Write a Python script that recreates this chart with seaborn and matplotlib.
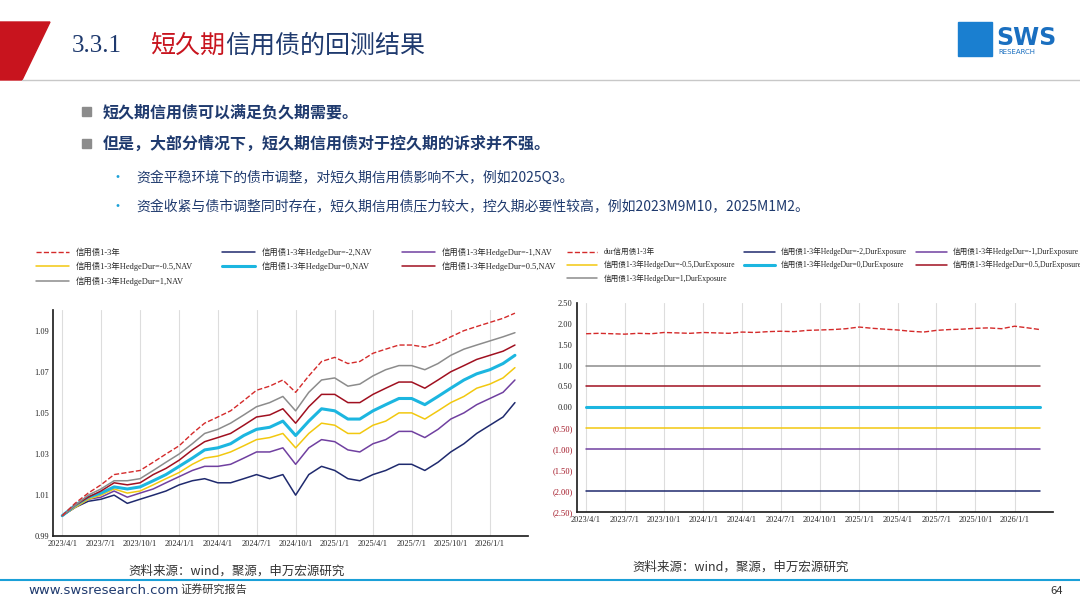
import matplotlib.pyplot as plt
import numpy as np
import pandas as pd
import seaborn as sns
from matplotlib.patches import Polygon, Rectangle
from matplotlib.lines import Line2D

sns.set_theme(style="white")
plt.rcParams['font.family'] = ['Noto Sans CJK SC', 'DejaVu Sans']
SERIF = ['Liberation Serif', 'Noto Sans CJK SC']

# ---- data (monthly points, 2023/4 .. 2026/3) ----
months = pd.date_range("2023-04-01", periods=36, freq="MS")

nav_base = [1.000, 1.006, 1.011, 1.015, 1.020, 1.021, 1.022, 1.026, 1.030,
            1.034, 1.040, 1.045, 1.048, 1.051, 1.056, 1.061, 1.063, 1.066, 1.060, 1.068, 1.075,
            1.077, 1.074, 1.075, 1.079, 1.081, 1.083, 1.083, 1.082, 1.084, 1.087, 1.090, 1.092,
            1.094, 1.096, 1.0985]
nav_m2 = [1.000, 1.004, 1.007, 1.008, 1.010, 1.006, 1.008, 1.010, 1.012, 1.015, 1.017, 1.018,
          1.016, 1.016, 1.018, 1.020, 1.018, 1.020, 1.010, 1.020, 1.024, 1.022, 1.018, 1.017,
          1.020, 1.022, 1.025, 1.025, 1.022, 1.026, 1.031, 1.035, 1.040, 1.044, 1.048, 1.055]
nav_m1 = [1.000, 1.004, 1.008, 1.009, 1.012, 1.009, 1.011, 1.013, 1.016, 1.019, 1.022, 1.024,
          1.024, 1.025, 1.028, 1.031, 1.031, 1.033, 1.025, 1.033, 1.037, 1.036, 1.032, 1.031,
          1.035, 1.037, 1.041, 1.041, 1.038, 1.042, 1.047, 1.050, 1.054, 1.057, 1.060, 1.066]
nav_m05 = [1.000, 1.004, 1.008, 1.010, 1.013, 1.011, 1.012, 1.015, 1.018, 1.021, 1.025, 1.028,
           1.029, 1.031, 1.034, 1.037, 1.038, 1.040, 1.033, 1.040, 1.045, 1.044, 1.040, 1.040,
           1.044, 1.046, 1.050, 1.050, 1.047, 1.051, 1.055, 1.058, 1.062, 1.064, 1.067, 1.072]
nav_0 = [1.000, 1.005, 1.009, 1.011, 1.014, 1.013, 1.014, 1.017, 1.020, 1.024, 1.028, 1.032,
         1.033, 1.035, 1.039, 1.042, 1.043, 1.046, 1.039, 1.046, 1.052, 1.051, 1.047, 1.047,
         1.051, 1.054, 1.057, 1.057, 1.054, 1.058, 1.062, 1.066, 1.069, 1.071, 1.074, 1.078]
nav_p05 = [1.000, 1.005, 1.009, 1.012, 1.016, 1.015, 1.016, 1.020, 1.023, 1.027, 1.032, 1.036,
           1.038, 1.040, 1.044, 1.048, 1.049, 1.052, 1.045, 1.053, 1.059, 1.059, 1.055, 1.055,
           1.059, 1.062, 1.065, 1.065, 1.062, 1.066, 1.070, 1.073, 1.076, 1.078, 1.080, 1.083]
nav_p1 = [1.000, 1.005, 1.010, 1.013, 1.017, 1.017, 1.018, 1.022, 1.026, 1.030, 1.035, 1.040,
          1.042, 1.045, 1.049, 1.053, 1.055, 1.058, 1.051, 1.060, 1.066, 1.067, 1.063, 1.064,
          1.068, 1.071, 1.073, 1.073, 1.071, 1.074, 1.078, 1.081, 1.083, 1.085, 1.087, 1.089]

dur_base = [1.76, 1.77, 1.76, 1.75, 1.77, 1.76, 1.79, 1.78, 1.77, 1.79, 1.78, 1.77,
            1.80, 1.79, 1.81, 1.82, 1.81, 1.84, 1.85, 1.86, 1.88, 1.92, 1.89, 1.87,
            1.85, 1.82, 1.80, 1.84, 1.86, 1.87, 1.89, 1.90, 1.88, 1.94, 1.90, 1.86]
hedge_levels = [-2, -1, -0.5, 0, 0.5, 1]

nav_labels = ["信用债1-3年", "信用债1-3年HedgeDur=-2,NAV", "信用债1-3年HedgeDur=-1,NAV",
              "信用债1-3年HedgeDur=-0.5,NAV", "信用债1-3年HedgeDur=0,NAV",
              "信用债1-3年HedgeDur=0.5,NAV", "信用债1-3年HedgeDur=1,NAV"]
dur_labels = ["dur信用债1-3年", "信用债1-3年HedgeDur=-2,DurExposure",
              "信用债1-3年HedgeDur=-1,DurExposure", "信用债1-3年HedgeDur=-0.5,DurExposure",
              "信用债1-3年HedgeDur=0,DurExposure", "信用债1-3年HedgeDur=0.5,DurExposure",
              "信用债1-3年HedgeDur=1,DurExposure"]
colors = ["#d42a2a", "#1f2a6e", "#7040a0", "#f2c80f", "#1cb6e0", "#a01020", "#8c8c8c"]
widths = [1.0, 1.1, 1.1, 1.1, 2.2, 1.1, 1.1]
xticks = pd.date_range("2023-04-01", "2026-01-01", freq="3MS")

fig = plt.figure(figsize=(10.8, 6.08), dpi=100)

# ---- slide decoration ----
deco = fig.add_axes([0, 0, 1, 1]); deco.set_axis_off(); deco.set_xlim(0, 1080); deco.set_ylim(608, 0)
deco.add_patch(Polygon([[0, 22], [50, 22], [22, 80], [0, 80]], color="#c8141e"))
deco.plot([22, 1080], [80, 80], color="#c8c8c8", lw=1)
deco.text(72, 46, "3.3.1", fontsize=18, color="#1f3a6e", va="center", family=SERIF)
deco.text(150, 46, "短久期", fontsize=18, color="#c8141e", va="center")
deco.text(225, 46, "信用债的回测结果", fontsize=18, color="#1f3a6e", va="center")
deco.add_patch(Rectangle((958, 22), 34, 34, color="#1a7fd0"))
deco.text(996, 38, "SWS", fontsize=17, color="#1a6fc0", fontweight="bold", va="center", family="DejaVu Sans")
deco.text(998, 52, "RESEARCH", fontsize=5, color="#1a6fc0", va="center", family="DejaVu Sans")
for y, t in [(112, "短久期信用债可以满足负久期需要。"), (144, "但是，大部分情况下，短久期信用债对于控久期的诉求并不强。")]:
    deco.add_patch(Rectangle((82, y - 5), 9, 9, color="#8c8c8c"))
    deco.text(103, y, t, fontsize=11.5, color="#1f3a6e", fontweight="bold", va="center")
for y, t in [(178, "资金平稳环境下的债市调整，对短久期信用债影响不大，例如2025Q3。"),
             (207, "资金收紧与债市调整同时存在，短久期信用债压力较大，控久期必要性较高，例如2023M9M10，2025M1M2。")]:
    deco.text(110, y, "•", fontsize=10, color="#1aa0d8", va="center")
    deco.text(136, y, t, fontsize=10, color="#1f3a6e", va="center")
deco.text(128, 571, "资料来源：wind，聚源，申万宏源研究", fontsize=9, color="#333333", va="center")
deco.text(632, 567, "资料来源：wind，聚源，申万宏源研究", fontsize=9, color="#333333", va="center")
deco.plot([0, 1080], [580, 580], color="#1aa0d8", lw=1.5)
deco.text(28, 591, "www.swsresearch.com", fontsize=9.5, color="#1f3a6e", va="center", family="DejaVu Sans")
deco.text(180, 589, "证券研究报告", fontsize=8, color="#333333", va="center")
deco.text(1050, 591, "64", fontsize=8, color="#333333", va="center")


def style(ax):
    for s in ["top", "right"]:
        ax.spines[s].set_visible(False)
    ax.spines["left"].set_color("#222222"); ax.spines["bottom"].set_color("#222222")
    ax.set_xticks(xticks)
    ax.set_xticklabels([f"{d.year}/{d.month}/1" for d in xticks], fontsize=6, family=SERIF)
    ax.set_xlim(pd.Timestamp("2023-03-10"), pd.Timestamp("2026-04-01"))
    ax.xaxis.grid(True, color="#dddddd", lw=0.8)
    ax.tick_params(axis="both", length=0, pad=3)
    ax.set_xlabel(""); ax.set_ylabel("")


def legend(labels, x0, y0, fs, cs):
    # column-major fill -> reorder so entries read row by row
    order = [0, 3, 6, 1, 4, 2, 5]
    handles = [Line2D([], [], color=colors[i], lw=widths[i], ls="--" if i == 0 else "-") for i in order]
    fig.legend(handles, [labels[i] for i in order], loc="upper left", bbox_to_anchor=(x0, y0), ncol=3,
               frameon=False, prop={"family": SERIF, "size": fs}, handlelength=4,
               columnspacing=cs, labelspacing=0.6, borderaxespad=0)


# ---- left chart ----
ax1 = fig.add_axes([0.049, 0.118, 0.44, 0.372])
navs = [nav_base, nav_m2, nav_m1, nav_m05, nav_0, nav_p05, nav_p1]
for i in [1, 2, 3, 4, 5, 6, 0]:
    sns.lineplot(x=months, y=navs[i], ax=ax1, color=colors[i], lw=widths[i],
                 ls="--" if i == 0 else "-")
ax1.set_ylim(0.99, 1.10)
ax1.set_yticks([0.99, 1.01, 1.03, 1.05, 1.07, 1.09])
ax1.set_yticklabels(["0.99", "1.01", "1.03", "1.05", "1.07", "1.09"], fontsize=6, family=SERIF)
style(ax1)
legend(nav_labels, 0.03, 0.598, 6, 3.5)

# ---- right chart ----
ax2 = fig.add_axes([0.534, 0.158, 0.441, 0.344])
for i, h in enumerate(hedge_levels):
    sns.lineplot(x=months, y=[h] * len(months), ax=ax2, color=colors[i + 1], lw=widths[i + 1])
sns.lineplot(x=months, y=dur_base, ax=ax2, color=colors[0], lw=1.0, ls="--")
yt = np.arange(-2.5, 2.51, 0.5)
ax2.set_ylim(-2.5, 2.5)
ax2.set_yticks(yt)
ax2.set_yticklabels([f"{v:.2f}" if v >= 0 else f"({-v:.2f})" for v in yt], fontsize=6, family=SERIF)
for lab, v in zip(ax2.get_yticklabels(), yt):
    if v < 0:
        lab.set_color("#a01020")
style(ax2)
legend(dur_labels, 0.522, 0.598, 5.5, 1.2)

fig.savefig("out.png", dpi=100)
